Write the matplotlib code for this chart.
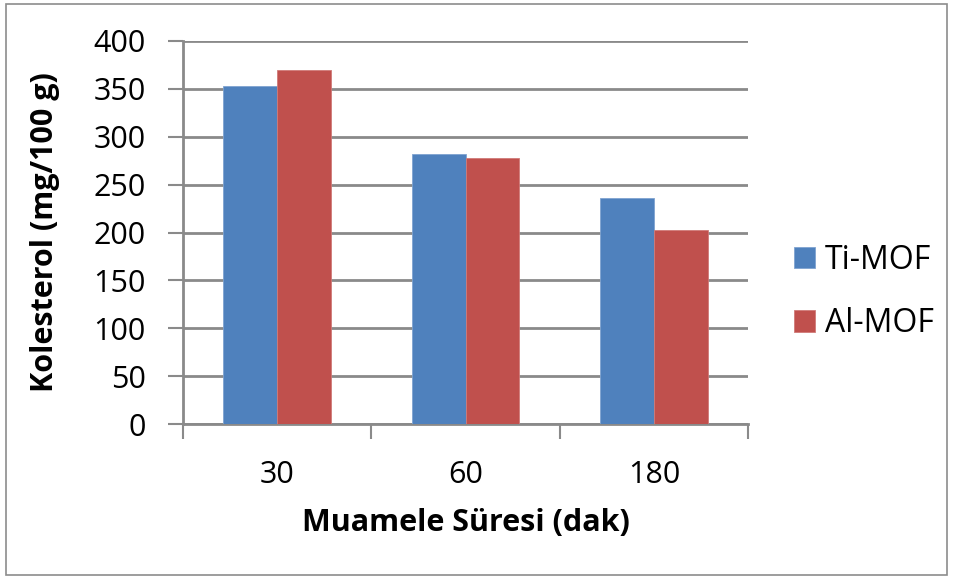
import matplotlib.pyplot as plt
import numpy as np
from matplotlib.patches import Rectangle

# treatment times (min) and cholesterol content (mg/100 g)
sureler = ['30', '60', '180']
ti_mof = [353, 282, 236]
al_mof = [370, 278, 203]

plt.rcParams['font.family'] = 'Open Sans'

fig = plt.figure(figsize=(9.55, 5.8), dpi=100)
fig.patches.append(Rectangle((0.006, 0.008), 0.986, 0.985, transform=fig.transFigure,
                             fill=False, edgecolor='#8c8c8c', linewidth=1.2))

ax = fig.add_axes([183/955, 156/580, 565/955, 383/580])

x = np.arange(len(sureler))
w = 0.286
ax.bar(x - w/2, ti_mof, w, color='#4F81BD', edgecolor='#7fa3d0', linewidth=0.6,
       label='Ti-MOF', zorder=3)
ax.bar(x + w/2, al_mof, w, color='#C0504D', edgecolor='#d07a78', linewidth=0.6,
       label='Al-MOF', zorder=3)

ax.set_xlim(-0.5, 2.5)
ax.set_ylim(0, 400)
ax.set_yticks(range(0, 401, 50))
ax.yaxis.grid(True, color='#8a8a8a', linewidth=2)
ax.set_axisbelow(True)

# category ticks sit on the group boundaries, labels in the middle
ax.set_xticks([-0.5, 0.5, 1.5, 2.5])
ax.set_xticklabels([])
ax.set_xticks(x, minor=True)
ax.set_xticklabels(sureler, minor=True)
ax.tick_params(axis='x', which='minor', length=0, pad=26, labelsize=22)
ax.tick_params(axis='x', which='major', length=11, width=1.5, color='#8a8a8a')
ax.tick_params(axis='y', length=11, width=1.5, color='#8a8a8a', labelsize=22, pad=16)

for s in ['top', 'right']:
    ax.spines[s].set_visible(False)
for s in ['left', 'bottom']:
    ax.spines[s].set_color('#8a8a8a')
    ax.spines[s].set_linewidth(2)

ax.set_xlabel('Muamele Süresi (dak)', fontsize=22, fontweight='bold', labelpad=13)
ax.set_ylabel('Kolesterol (mg/100 g)', fontsize=22, fontweight='bold', labelpad=24)

leg = fig.legend(loc='center left', bbox_to_anchor=(778/955, 1 - 292/580), frameon=False,
                 fontsize=23, handlelength=0.66, handleheight=0.66,
                 handletextpad=0.3, labelspacing=0.95, borderpad=0)

fig.savefig('out.png', dpi=100)
